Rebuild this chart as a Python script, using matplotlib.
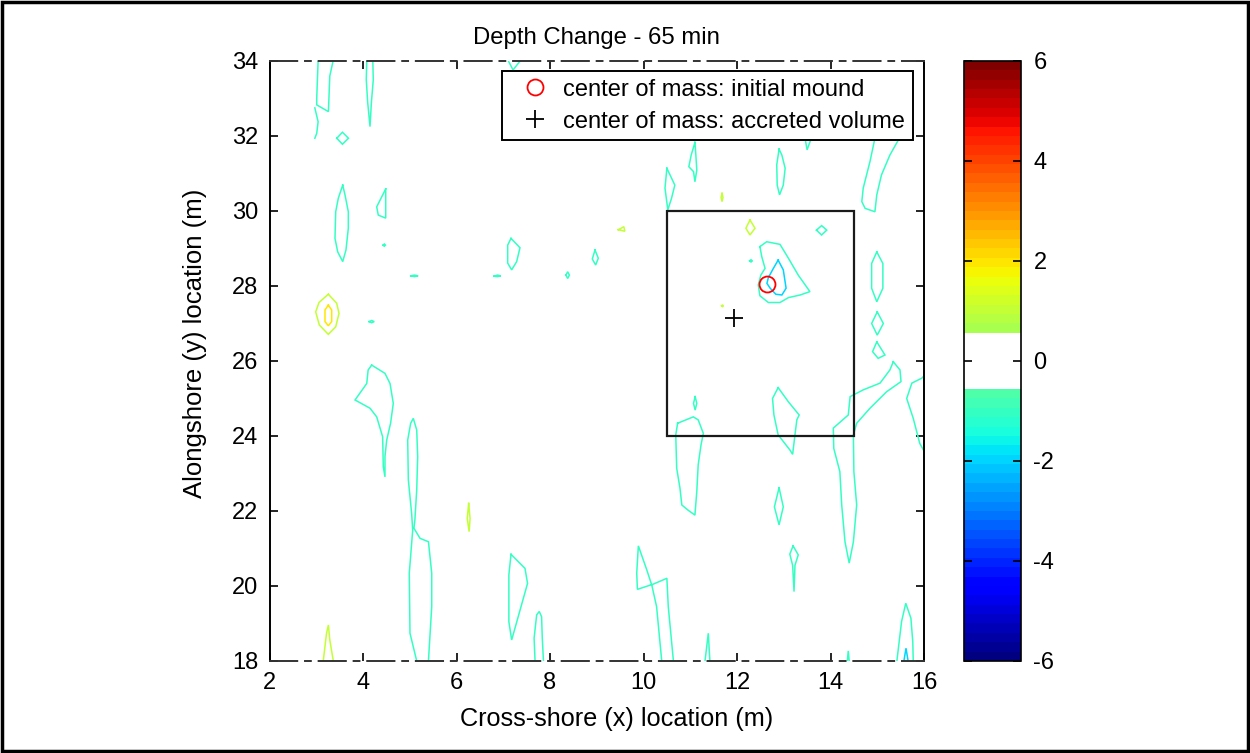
import matplotlib
matplotlib.use('Agg')
import matplotlib.pyplot as plt
import numpy as np
from matplotlib.colors import ListedColormap, Normalize
from matplotlib.cm import ScalarMappable
from matplotlib.patches import Rectangle

plt.rcParams['font.family'] = ['Liberation Sans', 'DejaVu Sans']
plt.rcParams['axes.unicode_minus'] = False

# ---------------- data ----------------
TITLE = 'Depth Change - 65 min'
XLABEL = 'Cross-shore (x) location (m)'
YLABEL = 'Alongshore (y) location (m)'
XLIM = (2, 16)
YLIM = (18, 34)
XTICKS = [2, 4, 6, 8, 10, 12, 14, 16]
YTICKS = [18, 20, 22, 24, 26, 28, 30, 32, 34]
CBAR_MIN, CBAR_MAX = -6, 6
CBAR_TICKS = [-6, -4, -2, 0, 2, 4, 6]

# analysis box (x0, y0, x1, y1)
BOX = (10.5, 24.0, 14.5, 30.0)
# centers of mass
COM_MOUND = (12.64, 28.05)
COM_ACCRETED = (11.94, 27.15)
LEGEND_LABELS = ['center of mass: initial mound', 'center of mass: accreted volume']

# contour lines of depth change, traced (x, y) in metres, grouped by level
LEVEL_M1 = -1.0
CONTOURS_M1 = [
    [(3.04, 34.0), (3.01, 33.0), (3.01, 32.83), (3.26, 32.65), (3.29, 33.6), (3.36, 34.0)],
    [(2.97, 32.75), (3.04, 32.38), (3.01, 32.07), (2.97, 31.94)],
    [(4.08, 34.0), (4.07, 33.5), (4.10, 32.9), (4.15, 32.25), (4.18, 32.9), (4.22, 33.5), (4.21, 34.0)],
    [(3.44, 31.94), (3.56, 32.1), (3.69, 31.94), (3.56, 31.78), (3.44, 31.94)],
    [(3.566, 30.69), (3.472, 30.34), (3.416, 29.98), (3.401, 29.27), (3.459, 28.91), (3.566, 28.65),
     (3.636, 28.96), (3.686, 29.54), (3.686, 29.98), (3.615, 30.43), (3.566, 30.69)],
    [(4.486, 30.59), (4.293, 30.11), (4.327, 29.89), (4.486, 29.81), (4.486, 30.59)],
    [(4.43, 29.09), (4.456, 29.12), (4.48, 29.09), (4.456, 29.06), (4.43, 29.09)],
    [(5.02, 28.27), (5.10, 28.29), (5.18, 28.27), (5.10, 28.25), (5.02, 28.27)],
    [(4.13, 27.05), (4.186, 27.08), (4.24, 27.05), (4.186, 27.02), (4.13, 27.05)],
    [(7.11, 34.0), (7.21, 33.76), (7.36, 34.0)],
    [(7.166, 29.27), (7.358, 29.02), (7.287, 28.65), (7.18, 28.43), (7.095, 28.61), (7.095, 29.09), (7.166, 29.27)],
    [(6.80, 28.26), (6.877, 28.29), (6.95, 28.27), (6.877, 28.25), (6.80, 28.26)],
    [(8.34, 28.29), (8.378, 28.38), (8.415, 28.29), (8.378, 28.20), (8.34, 28.29)],
    [(8.963, 28.96), (9.033, 28.74), (8.977, 28.56), (8.905, 28.72), (8.963, 28.96)],
    [(10.50, 31.14), (10.67, 30.69), (10.60, 30.34), (10.52, 30.03), (10.46, 30.61), (10.50, 31.14)],
    [(11.10, 31.83), (11.12, 31.49), (11.14, 31.09), (11.10, 30.78), (11.07, 31.05), (10.97, 31.18),
     (11.02, 31.49), (11.10, 31.83)],
    [(13.45, 32.4), (13.45, 31.98), (13.50, 31.63), (13.60, 31.98), (13.62, 32.4)],
    [(12.90, 31.65), (12.85, 31.23), (12.86, 30.69), (12.91, 30.43), (12.99, 30.69), (13.03, 31.14),
     (12.96, 31.49), (12.90, 31.65)],
    [(14.9, 32.4), (14.95, 31.94), (14.845, 31.32), (14.70, 30.61), (14.67, 30.25), (14.74, 30.07),
     (14.95, 29.98), (14.99, 30.43), (15.09, 30.96), (15.27, 31.49), (15.49, 31.98), (15.65, 32.4)],
    [(13.70, 29.49), (13.81, 29.61), (13.92, 29.49), (13.81, 29.36), (13.70, 29.49)],
    [(12.49, 29.05), (12.635, 29.18), (12.92, 29.11), (13.10, 28.74), (13.31, 28.29), (13.56, 27.85),
     (13.35, 27.76), (13.10, 27.69), (12.92, 27.56), (12.67, 27.56), (12.49, 27.74), (12.455, 28.03),
     (12.51, 28.29), (12.60, 28.47), (12.53, 28.78), (12.49, 29.05)],
    [(12.27, 28.67), (12.30, 28.70), (12.33, 28.67), (12.30, 28.64), (12.27, 28.67)],
    [(14.99, 28.91), (15.12, 28.60), (15.12, 27.94), (14.99, 27.58), (14.88, 27.94), (14.88, 28.60), (14.99, 28.91)],
    [(15.0, 27.31), (15.13, 27.0), (15.0, 26.69), (14.88, 27.0), (15.0, 27.31)],
    [(14.99, 26.51), (15.165, 26.16), (15.02, 26.07), (14.90, 26.25), (14.99, 26.51)],
    [(15.343, 25.98), (15.487, 25.76), (15.508, 25.45), (15.20, 25.18), (14.845, 24.74), (14.56, 24.34),
     (14.49, 24.03), (14.50, 23.05), (14.56, 22.16), (14.49, 21.18), (14.40, 20.61), (14.31, 21.18),
     (14.24, 22.16), (14.20, 23.05), (14.07, 23.67), (14.06, 24.21), (14.38, 24.56), (14.42, 25.05),
     (14.70, 25.23), (15.06, 25.41), (15.27, 25.76), (15.343, 25.98)],
    [(16.0, 25.6), (15.95, 25.54), (15.74, 25.41), (15.63, 25.0), (15.77, 24.47), (15.91, 23.80), (16.0, 23.6)],
    [(12.88, 25.29), (12.76, 25.0), (12.79, 24.56), (12.88, 24.03), (13.13, 23.63), (13.19, 23.51),
     (13.24, 24.03), (13.28, 24.43), (13.33, 24.56), (13.10, 24.91), (12.88, 25.29)],
    [(12.90, 22.62), (12.99, 22.11), (12.90, 21.63), (12.80, 22.11), (12.90, 22.62)],
    [(13.20, 21.07), (13.31, 20.83), (13.24, 20.55), (13.22, 19.85), (13.19, 20.55), (13.13, 20.85), (13.20, 21.07)],
    [(15.42, 18.0), (15.52, 19.05), (15.61, 19.54), (15.72, 19.14), (15.76, 18.51), (15.77, 18.0)],
    [(14.36, 18.0), (14.38, 18.27), (14.40, 18.0)],
    [(11.316, 18.0), (11.386, 18.74), (11.42, 18.0)],
    [(11.105, 25.05), (11.14, 24.87), (11.105, 24.69), (11.07, 24.87), (11.105, 25.05)],
    [(10.73, 24.34), (11.065, 24.51), (11.17, 24.43), (11.28, 24.07), (11.23, 23.76), (11.17, 23.23),
     (11.14, 22.52), (11.10, 21.89), (10.945, 22.03), (10.82, 22.16), (10.78, 22.61), (10.71, 23.14),
     (10.69, 24.03), (10.73, 24.34)],
    [(7.166, 20.845), (7.465, 20.47), (7.52, 20.07), (7.43, 19.67), (7.18, 18.56), (7.12, 19.05),
     (7.12, 20.29), (7.166, 20.845)],
    [(7.68, 18.0), (7.66, 18.61), (7.715, 19.23), (7.77, 19.32), (7.82, 19.18), (7.835, 18.61), (7.86, 18.0)],
    [(10.39, 18.0), (10.28, 19.45), (10.18, 20.01), (10.07, 20.43), (9.89, 21.07), (9.855, 20.34),
     (9.87, 19.91), (10.21, 20.05), (10.50, 20.205), (10.53, 19.45), (10.64, 18.0)],
    [(5.149, 18.0), (5.005, 18.74), (4.99, 20.34), (5.063, 21.49), (5.04, 21.94), (4.97, 22.83),
     (4.956, 23.89), (5.02, 24.34), (5.076, 24.47), (5.149, 24.16), (5.17, 23.45), (5.149, 22.56),
     (5.11, 21.76), (5.09, 21.54), (5.22, 21.27), (5.40, 21.18), (5.47, 20.34), (5.47, 19.45), (5.40, 18.0)],
    [(4.186, 25.89), (4.47, 25.67), (4.578, 25.40), (4.648, 24.87), (4.59, 24.34), (4.507, 23.89),
     (4.47, 23.45), (4.47, 22.91), (4.434, 23.18), (4.42, 23.98), (4.293, 24.51), (4.15, 24.74),
     (3.83, 24.96), (4.08, 25.40), (4.11, 25.76), (4.186, 25.89)],
]

LEVEL_M2 = -2.0
CONTOURS_M2 = [
    [(12.88, 28.69), (12.99, 28.43), (13.05, 27.94), (12.96, 27.76), (12.83, 27.78), (12.71, 27.94),
     (12.64, 28.07), (12.67, 28.22), (12.76, 28.43), (12.88, 28.69)],
    [(15.57, 18.0), (15.615, 18.34), (15.66, 18.0)],
]

LEVEL_P1 = 1.0
CONTOURS_P1 = [
    [(3.258, 27.78), (3.437, 27.54), (3.487, 27.27), (3.416, 26.91), (3.258, 26.71), (3.066, 26.96),
     (2.988, 27.31), (3.059, 27.56), (3.258, 27.78)],
    [(9.46, 29.50), (9.58, 29.58), (9.60, 29.46), (9.46, 29.50)],
    [(11.68, 30.47), (11.70, 30.36), (11.68, 30.25), (11.66, 30.36), (11.68, 30.47)],
    [(12.278, 29.76), (12.385, 29.54), (12.278, 29.36), (12.19, 29.54), (12.278, 29.76)],
    [(11.67, 27.47), (11.69, 27.49), (11.71, 27.47), (11.69, 27.45), (11.67, 27.47)],
    [(6.26, 22.2), (6.29, 21.8), (6.27, 21.45), (6.23, 21.8), (6.26, 22.2)],
    [(3.15, 18.0), (3.22, 18.74), (3.26, 18.96), (3.29, 18.56), (3.365, 18.0)],
]

LEVEL_P2 = 2.0
CONTOURS_P2 = [
    [(3.258, 27.49), (3.33, 27.36), (3.33, 27.05), (3.258, 26.94), (3.187, 27.05), (3.187, 27.36), (3.258, 27.49)],
]

# ---------------- figure ----------------
fig = plt.figure(figsize=(12.5, 7.53), dpi=100)
ax = fig.add_axes([0.2156, 0.1222, 0.5236, 0.7968])
cax = fig.add_axes([0.7712, 0.1222, 0.0456, 0.7968])

# jet (64 colours) with a white band around zero
cols = plt.get_cmap('jet', 64)(np.arange(64))
cols[29:35] = [1, 1, 1, 1]
cmap = ListedColormap(cols)
norm = Normalize(CBAR_MIN, CBAR_MAX)

for level, paths in [(LEVEL_M1, CONTOURS_M1), (LEVEL_M2, CONTOURS_M2),
                     (LEVEL_P1, CONTOURS_P1), (LEVEL_P2, CONTOURS_P2)]:
    color = cmap(norm(level))
    for p in paths:
        xs, ys = zip(*p)
        ax.plot(xs, ys, color=color, lw=1.1, zorder=2, solid_joinstyle='miter')

ax.add_patch(Rectangle((BOX[0], BOX[1]), BOX[2] - BOX[0], BOX[3] - BOX[1],
                       fill=False, ec='#1a1a1a', lw=1.6, zorder=3))

ax.plot([COM_MOUND[0]], [COM_MOUND[1]], 'o', mfc='none', mec='red', ms=11.5, mew=1.3,
        zorder=4, label=LEGEND_LABELS[0])
ax.plot([COM_ACCRETED[0]], [COM_ACCRETED[1]], '+', color='black', ms=13, mew=1.3,
        zorder=4, label=LEGEND_LABELS[1])

ax.set_xlim(*XLIM)
ax.set_ylim(*YLIM)
ax.set_xticks(XTICKS)
ax.set_yticks(YTICKS)
ax.tick_params(direction='in', top=True, right=True, length=6, width=1.2,
               labelsize=17, pad=8)
for s in ['left', 'right']:
    ax.spines[s].set_linewidth(1.4)
for s in ['top', 'bottom']:
    ax.spines[s].set_linewidth(1.4)
    ax.spines[s].set_linestyle((0, (14, 4, 3, 4)))
    ax.spines[s].set_color('#333333')

ax.set_title(TITLE, fontsize=17.2, pad=12)
ax.set_xlabel(XLABEL, fontsize=18.2)
ax.xaxis.set_label_coords(0.531, -0.076)
ax.set_ylabel(YLABEL, fontsize=18.5)
ax.yaxis.set_label_coords(-0.095, 0.53)

leg = ax.legend(loc='upper right', bbox_to_anchor=(0.983, 0.983), borderaxespad=0,
                fancybox=False, edgecolor='black', framealpha=1, fontsize=17,
                handlelength=2.2, handletextpad=0.1, borderpad=0.32, labelspacing=0.42,
                numpoints=1)
leg.get_frame().set_linewidth(1.4)

cb = fig.colorbar(ScalarMappable(norm=norm, cmap=cmap), cax=cax)
cb.set_ticks(CBAR_TICKS)
cb.outline.set_linewidth(1.2)
cax.tick_params(direction='in', left=True, right=True, length=6, width=1.2,
                labelsize=17, pad=9)

fig.patches.append(Rectangle((0.0016, 0.003), 0.9968, 0.994, transform=fig.transFigure,
                             fill=False, ec='black', lw=2.5))

fig.savefig('out.png', dpi=100)
